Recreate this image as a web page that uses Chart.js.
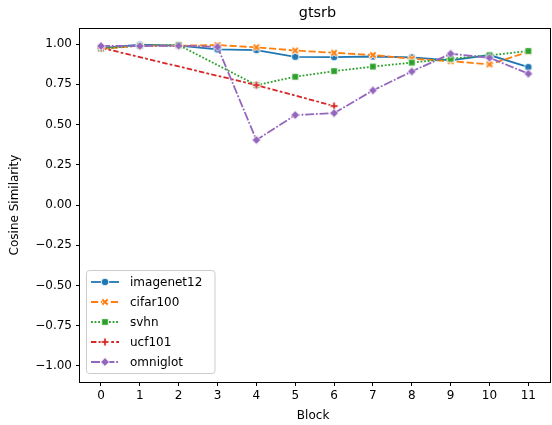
<!DOCTYPE html>
<html>
<head>
<meta charset="utf-8">
<script src="https://cdn.jsdelivr.net/npm/chart.js@4"></script>
<style>
  html, body { margin: 0; padding: 0; background: #fff; }
  #wrap { width: 552px; height: 425px; }
</style>
</head>
<body>
<div id="wrap"><canvas id="chart" width="552" height="425"></canvas></div>
<script>
"use strict";

// data
const blocks = [0, 1, 2, 3, 4, 5, 6, 7, 8, 9, 10, 11];
const imagenet12 = [0.975, 0.996, 0.99, 0.967, 0.963, 0.921, 0.919, 0.923, 0.917, 0.899, 0.932, 0.857];
const cifar100 = [0.97, 0.99, 0.99, 0.994, 0.98, 0.96, 0.946, 0.932, 0.909, 0.894, 0.874, 0.952];
const svhn = [0.973, 0.99, 0.994, null, 0.745, 0.797, 0.832, 0.86, 0.885, 0.909, 0.93, 0.957];
const ucf101 = [0.977, null, null, null, 0.745, null, 0.615, null, null, null, null, null];
const omniglot = [0.988, 0.988, 0.99, 0.983, 0.404, 0.559, 0.571, 0.712, 0.83, 0.94, 0.915, 0.816];
const yTicks = [-1, -0.75, -0.5, -0.25, 0, 0.25, 0.5, 0.75, 1];

const FONT = "'DejaVu Sans', sans-serif";

/*
    marker images, drawn like the matplotlib ones (white edge)
*/
function make_marker(kind, colour) {
    const s = 14;
    const c = document.createElement("canvas");
    c.width = s; c.height = s;
    const ctx = c.getContext("2d");
    ctx.translate(s / 2, s / 2);
    ctx.beginPath();
    if (kind === "circle") {
        ctx.arc(0, 0, 3.8, 0, Math.PI * 2);
    } else if (kind === "square") {
        ctx.rect(-3.3, -3.3, 6.6, 6.6);
    } else if (kind === "diamond") {
        ctx.moveTo(0, -4.4); ctx.lineTo(4.4, 0); ctx.lineTo(0, 4.4); ctx.lineTo(-4.4, 0);
        ctx.closePath();
    } else {
        // plus / X as a filled cross
        const a = 1.3, b = 4.0;
        if (kind === "x") ctx.rotate(Math.PI / 4);
        ctx.moveTo(-a, -b); ctx.lineTo(a, -b); ctx.lineTo(a, -a); ctx.lineTo(b, -a);
        ctx.lineTo(b, a); ctx.lineTo(a, a); ctx.lineTo(a, b); ctx.lineTo(-a, b);
        ctx.lineTo(-a, a); ctx.lineTo(-b, a); ctx.lineTo(-b, -a); ctx.lineTo(-a, -a);
        ctx.closePath();
    }
    ctx.fillStyle = colour;
    ctx.fill();
    ctx.lineWidth = 0.9;
    ctx.strokeStyle = "#ffffff";
    ctx.stroke();
    return c;
}

const series = [
    {label: "imagenet12", values: imagenet12, colour: "#1f77b4", marker: "circle", dash: []},
    {label: "cifar100", values: cifar100, colour: "#ff7f0e", marker: "x", dash: [7.2, 2.7]},
    {label: "svhn", values: svhn, colour: "#2ca02c", marker: "square", dash: [1.8, 1.8]},
    {label: "ucf101", values: ucf101, colour: "#d62728", marker: "plus", dash: [5.4, 2.25, 2.7, 2.25]},
    {label: "omniglot", values: omniglot, colour: "#9467bd", marker: "diamond", dash: [9, 1.8, 1.8, 1.8]}
];
series.forEach(s => { s.img = make_marker(s.marker, s.colour); });

function create_datasets() {
    return series.map((s, i) => ({
        label: s.label,
        data: blocks.map((b, j) => ({x: b, y: s.values[j]})),
        borderColor: s.colour,
        backgroundColor: s.colour,
        borderWidth: 1.8,
        borderDash: s.dash,
        pointStyle: s.img,
        pointRadius: 4,
        spanGaps: true,
        fill: false,
        tension: 0,
        order: series.length - i   // last series on top, like matplotlib
    }));
}

/*
    frame, title and the legend inside the axes
*/
const frame_legend_plugin = {
    id: "frame_legend",
    afterDraw(chart) {
        const ctx = chart.ctx;
        const a = chart.chartArea;
        ctx.save();
        ctx.strokeStyle = "#000";
        ctx.lineWidth = 1;
        ctx.setLineDash([]);
        ctx.strokeRect(Math.round(a.left) - 0.5, Math.round(a.top) + 0.5,
                       Math.round(a.right - a.left) + 5, Math.round(a.bottom - a.top));

        // title
        ctx.fillStyle = "#000";
        ctx.font = "14.4px " + FONT;
        ctx.textAlign = "center";
        ctx.textBaseline = "middle";
        ctx.fillText("gtsrb", (a.left + 555) / 2, 13);

        // legend
        const bx = 86.5, by = 270.5, bw = 128.5, bh = 103;
        ctx.beginPath();
        ctx.roundRect(bx, by, bw, bh, 3);
        ctx.fillStyle = "rgba(255,255,255,0.8)";
        ctx.fill();
        ctx.strokeStyle = "#cccccc";
        ctx.lineWidth = 1;
        ctx.stroke();

        ctx.font = "12px " + FONT;
        ctx.textAlign = "left";
        series.forEach((s, i) => {
            const y = 282 + i * 20;
            ctx.beginPath();
            ctx.strokeStyle = s.colour;
            ctx.lineWidth = 1.8;
            ctx.setLineDash(s.dash);
            ctx.moveTo(91, y);
            ctx.lineTo(119, y);
            ctx.stroke();
            ctx.setLineDash([]);
            ctx.drawImage(s.img, 105 - s.img.width / 2, y - s.img.height / 2);
            ctx.fillStyle = "#000";
            ctx.fillText(s.label, 130, y + 0.5);
        });
        ctx.restore();
    }
};

const ctx = document.getElementById("chart").getContext("2d");
window.sim_chart = new Chart(ctx, {
    type: "line",
    data: {datasets: create_datasets()},
    plugins: [frame_legend_plugin],
    options: {
        responsive: false,
        animation: false,
        layout: {padding: {top: 28, left: 0, right: 0, bottom: 0}},
        plugins: {
            legend: {display: false},
            title: {display: false},
            tooltip: {enabled: false}
        },
        scales: {
            x: {
                type: "linear",
                min: -0.54,
                max: 11.46,
                afterFit: scale => { scale.height = 43; },
                afterBuildTicks: scale => { scale.ticks = blocks.map(v => ({value: v})); },
                grid: {drawOnChartArea: false, drawTicks: true, tickLength: 4, tickColor: "#000"},
                border: {display: false},
                ticks: {
                    color: "#000", padding: 3,
                    font: {family: FONT, size: 12},
                    maxRotation: 0, autoSkip: false,
                    callback: v => String(v)
                },
                title: {
                    display: true, text: "Block", color: "#000",
                    font: {family: FONT, size: 12},
                    padding: {top: 0, bottom: 2}
                }
            },
            y: {
                type: "linear",
                min: -1.1,
                max: 1.1,
                afterFit: scale => { scale.width = 80; },
                afterBuildTicks: scale => { scale.ticks = yTicks.map(v => ({value: v})); },
                grid: {drawOnChartArea: false, drawTicks: true, tickLength: 4, tickColor: "#000"},
                border: {display: false},
                ticks: {
                    color: "#000", padding: 4,
                    font: {family: FONT, size: 12},
                    callback: v => v.toFixed(2).replace("-", "\u2212")
                },
                title: {
                    display: true, text: "Cosine Similarity", color: "#000",
                    font: {family: FONT, size: 12},
                    padding: {top: 8, bottom: 0}
                }
            }
        }
    }
});
</script>
</body>
</html>
